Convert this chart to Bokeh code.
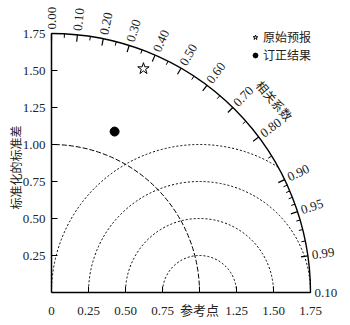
import numpy as np
from bokeh.plotting import figure
from bokeh.models import Legend, LegendItem, FixedTicker, Range1d, ColumnDataSource, Label
from bokeh.embed import file_html
from bokeh.resources import INLINE
from bokeh.core.properties import value

# ---------------- data ----------------
series_names = ["原始预报", "订正结果"]
series_std = [1.635, 1.168]
series_corr = [0.38, 0.365]
series_markers = ["star", "circle"]

ref_std = 1.0
std_max = 1.75
x_ticks = [0, 0.25, 0.5, 0.75, 1.0, 1.25, 1.5, 1.75]
x_tick_labels = ["0", "0.25", "0.50", "0.75", "参考点", "1.25", "1.50", "1.75"]
y_ticks = [0.25, 0.5, 0.75, 1.0, 1.25, 1.5, 1.75]
y_tick_labels = ["0.25", "0.50", "0.75", "1.00", "1.25", "1.50", "1.75"]
corr_major = [0.0, 0.1, 0.2, 0.3, 0.4, 0.5, 0.6, 0.7, 0.8, 0.9, 0.95, 0.99, 1.0]
corr_major_labels = ["0.00", "0.10", "0.20", "0.30", "0.40", "0.50", "0.60",
                     "0.70", "0.80", "0.90", "0.95", "0.99", "0.10"]
corr_minor = [0.05, 0.15, 0.25, 0.35, 0.45, 0.55, 0.65, 0.75, 0.85,
              0.91, 0.92, 0.93, 0.94, 0.96, 0.97, 0.98]
rms_radii = [0.25, 0.5, 0.75, 1.0]
corr_title = "相关系数"
y_title = "标准化的标准差"

# ---------------- figure ----------------
PX = 148.0
W, H = 342, 317
OX, OY = 51, 292   # origin position on canvas (px)
p = figure(width=W, height=H, output_backend="svg", toolbar_location=None,
           x_range=Range1d(-OX / PX, (W - OX) / PX),
           y_range=Range1d(-(H - OY) / PX, OY / PX),
           min_border_left=0, min_border_right=0, min_border_top=0, min_border_bottom=0)
p.xgrid.visible = False
p.ygrid.visible = False
p.outline_line_color = None
p.background_fill_color = "white"

num_font = "Liberation Serif, Noto Sans CJK SC"
for ax, ticks, labels, so in ((p.xaxis, x_ticks, x_tick_labels, 10),
                              (p.yaxis, y_ticks, y_tick_labels, 6)):
    ax.fixed_location = 0
    ax.bounds = (0, std_max)
    ax.ticker = FixedTicker(ticks=ticks)
    ax.major_label_overrides = {t: l for t, l in zip(ticks, labels)}
    ax.minor_tick_line_color = None
    ax.major_tick_in = 6
    ax.major_tick_out = 0
    ax.axis_line_width = 1.5
    ax.axis_line_color = "black"
    ax.major_tick_line_color = "black"
    ax.major_label_text_font = num_font
    ax.major_label_text_font_size = "13px"
    ax.major_label_text_color = "#222222"
    ax.major_label_standoff = so

# y axis title
p.add_layout(Label(x=-36 / PX, y=0.845, text=y_title, angle=np.pi / 2,
                   text_align="center", text_baseline="middle",
                   text_font="Noto Sans CJK SC", text_font_size="12px",
                   text_color="#222222"))

# outer std arc
p.arc(x=0, y=0, radius=std_max, start_angle=0, end_angle=np.pi / 2,
      line_color="black", line_width=1.4)

# reference std dashed circle
p.arc(x=0, y=0, radius=ref_std, start_angle=0, end_angle=np.pi / 2,
      line_color="black", line_width=1.0, line_dash="5 2")

# RMS dotted circles centred on reference point
for r in rms_radii:
    if ref_std + r > std_max:
        xi = (std_max ** 2 - r ** 2 + ref_std ** 2) / (2 * ref_std)
        yi = np.sqrt(std_max ** 2 - xi ** 2)
        start = float(np.arctan2(yi, xi - ref_std))
    else:
        start = 0.0
    p.arc(x=ref_std, y=0, radius=r, start_angle=start, end_angle=np.pi,
          line_color="black", line_width=1.0, line_dash="2 2")

# correlation ticks
def tick_segments(vals, length):
    th = np.arccos(np.array(vals))
    return dict(x0=std_max * np.cos(th), y0=std_max * np.sin(th),
                x1=(std_max - length) * np.cos(th), y1=(std_max - length) * np.sin(th))

p.segment(source=ColumnDataSource(tick_segments(corr_major, 7 / PX)),
          x0="x0", y0="y0", x1="x1", y1="y1", line_color="black", line_width=1.2)
p.segment(source=ColumnDataSource(tick_segments(corr_minor, 4 / PX)),
          x0="x0", y0="y0", x1="x1", y1="y1", line_color="black", line_width=1.0)

th = np.arccos(np.array(corr_major))
lab_r = std_max + 4 / PX
p.text(x=lab_r * np.cos(th), y=lab_r * np.sin(th), text=corr_major_labels, angle=th,
       text_align="left", text_baseline="middle", text_font=value("Liberation Serif"),
       text_font_size="13px", text_color="#222222")

# correlation title
tt = float(np.arccos(0.758))
tr = 1.99
p.text(x=[tr * np.cos(tt)], y=[tr * np.sin(tt)], text=[corr_title], angle=tt - np.pi / 2,
       text_align="center", text_baseline="middle", text_font=value("Noto Sans CJK SC"),
       text_font_size="12px", text_color="#222222")

# series points
items = []
for name, s, c, m in zip(series_names, series_std, series_corr, series_markers):
    xs = [s * c]
    ys = [s * np.sqrt(1 - c ** 2)]
    if m == "star":
        r = p.scatter(x=xs, y=ys, marker="star", size=12, fill_color=None,
                      line_color="black", line_width=1.0)
    else:
        r = p.scatter(x=xs, y=ys, marker="circle", size=9, fill_color="black",
                      line_color="black")
    items.append(LegendItem(label=name, renderers=[r]))

legend = Legend(items=items, location=(249, 254), border_line_color=None,
                background_fill_alpha=0, label_text_font="Noto Sans CJK SC",
                label_text_font_size="12px", label_text_color="#222222",
                glyph_width=12, glyph_height=14, label_standoff=2, padding=0,
                spacing=1, margin=0, label_height=14)
p.add_layout(legend)

open("out.html", "w").write(file_html(p, INLINE))
